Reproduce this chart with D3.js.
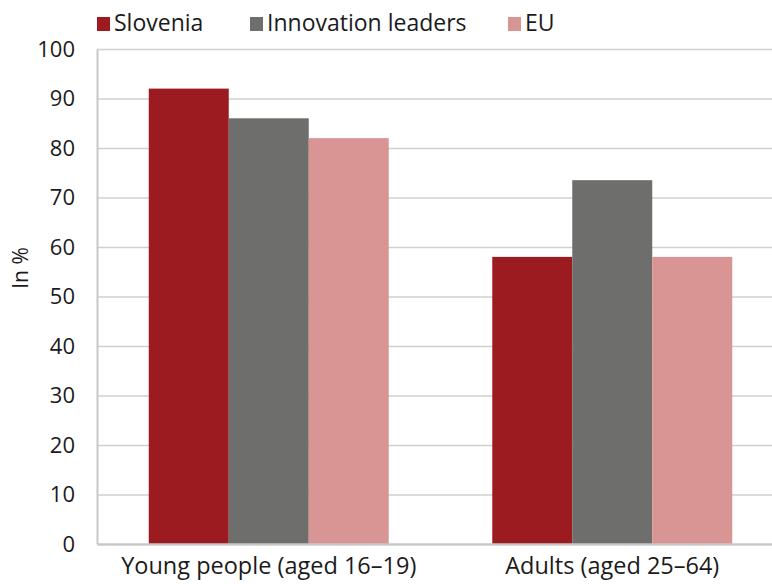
<!DOCTYPE html>
<html>
<head>
<meta charset="utf-8">
<script src="https://cdn.jsdelivr.net/npm/d3@7"></script>
<style>
    body { margin: 0; background: #fff; }
    svg { display: block; font-family: "Open Sans", sans-serif; }
    .grid line { stroke: #d0d0d0; stroke-width: 1.5; }
    .grid path { display: none; }
</style>
</head>
<body>
<svg></svg>
<script>
const categories = ['Young people (aged 16–19)', 'Adults (aged 25–64)'];
const seriesNames = ['Slovenia', 'Innovation leaders', 'EU'];
const slovenia = [92, 58];
const innovationLeaders = [86, 73.5];
const eu = [82, 58];
const yTicks = [0, 10, 20, 30, 40, 50, 60, 70, 80, 90, 100];
const colors = ['#9b1b21', '#6e6e6c', '#d99594'];

function drawChart() {
    const values = [slovenia, innovationLeaders, eu];
    const todraw = categories.map((c, i) => ({
        name: c,
        bars: seriesNames.map((s, j) => ({ series: s, value: values[j][i], color: colors[j] }))
    }));

    const width = 772;
    const height = 584;
    const margin = { left: 97, top: 49 };
    const plotW = 687;
    const plotH = 495;
    const textColor = '#1c1a1b';

    const svg = d3.select('svg')
        .attr('width', width)
        .attr('height', height);

    const chart = svg.append('g')
        .attr('transform', `translate(${margin.left}, ${margin.top})`);

    const yScale = d3.scaleLinear()
        .range([plotH, 0])
        .domain([0, 100]);

    const x0 = d3.scaleBand()
        .range([0, plotW])
        .domain(categories)
        .padding(0);

    const x1 = d3.scaleBand()
        .range([0, x0.bandwidth()])
        .domain(seriesNames)
        .paddingInner(0)
        .paddingOuter(0.647);

    // horizontal grid
    chart.append('g')
        .attr('class', 'grid')
        .call(d3.axisLeft(yScale)
            .tickValues(yTicks.filter(t => t > 0))
            .tickSize(-plotW)
            .tickFormat(''));

    // bars
    chart.selectAll('.group')
        .data(todraw)
        .enter()
        .append('g')
        .attr('class', 'group')
        .attr('transform', d => `translate(${x0(d.name)}, 0)`)
        .selectAll('rect')
        .data(d => d.bars)
        .enter()
        .append('rect')
        .attr('x', b => x1(b.series))
        .attr('y', b => yScale(b.value))
        .attr('width', x1.bandwidth())
        .attr('height', b => plotH - yScale(b.value))
        .attr('fill', b => b.color);

    // left axis
    const yAxis = chart.append('g')
        .call(d3.axisLeft(yScale).tickValues(yTicks).tickSize(0).tickPadding(22));
    yAxis.select('.domain').attr('stroke', '#c8c8c8').attr('stroke-width', 2);
    yAxis.selectAll('text')
        .attr('font-family', '"Open Sans", sans-serif')
        .attr('font-size', 22)
        .attr('font-weight', 500)
        .attr('fill', textColor);

    // bottom axis
    const xAxis = chart.append('g')
        .attr('transform', `translate(0, ${plotH})`)
        .call(d3.axisBottom(x0).tickSize(0).tickPadding(13));
    xAxis.select('.domain').attr('stroke', '#c8c8c8').attr('stroke-width', 2.5);
    xAxis.selectAll('text')
        .attr('font-family', '"Open Sans", sans-serif')
        .attr('font-size', 23.5)
        .attr('font-weight', 500)
        .attr('fill', textColor);

    // y label
    svg.append('text')
        .attr('transform', 'translate(28, 268) rotate(-90)')
        .attr('text-anchor', 'middle')
        .attr('font-size', 21)
        .attr('font-weight', 500)
        .attr('fill', textColor)
        .text('In %');

    // legend
    const legendX = [97, 250, 508];
    const legend = svg.selectAll('.legend')
        .data(seriesNames)
        .enter()
        .append('g')
        .attr('class', 'legend')
        .attr('transform', (d, i) => `translate(${legendX[i]}, 17)`);
    legend.append('rect')
        .attr('width', 13)
        .attr('height', 14)
        .attr('fill', (d, i) => colors[i]);
    legend.append('text')
        .attr('x', 17)
        .attr('y', 14)
        .attr('font-size', 23)
        .attr('font-weight', 500)
        .attr('fill', textColor)
        .text(d => d);
}

drawChart();
</script>
</body>
</html>
